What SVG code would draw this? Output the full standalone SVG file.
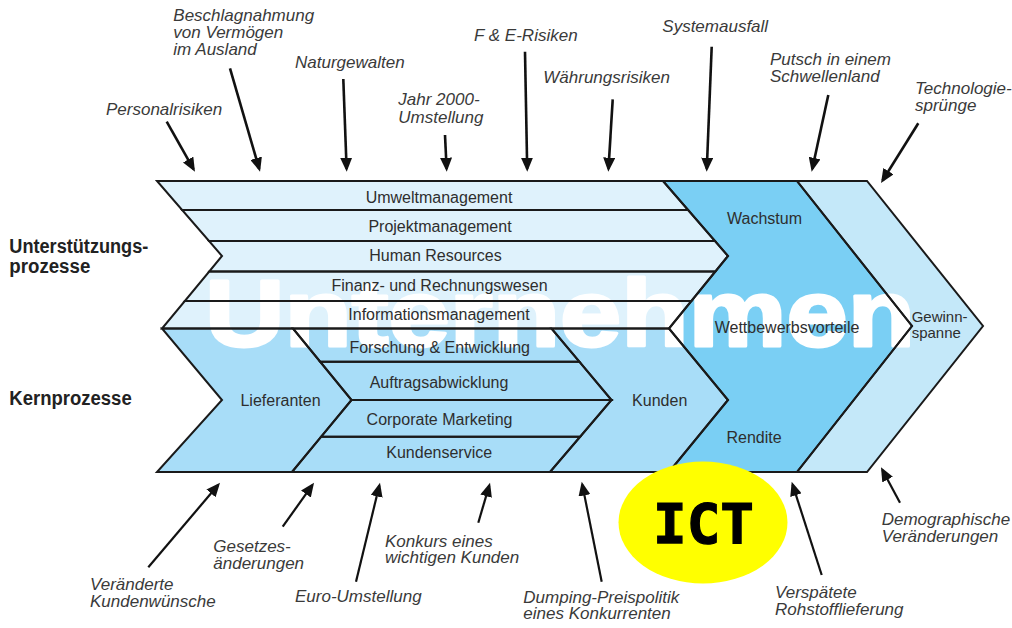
<svg xmlns="http://www.w3.org/2000/svg" xmlns:xlink="http://www.w3.org/1999/xlink" width="1012" height="628" viewBox="0 0 1012 628">
<style>
.top{fill:#DFF2FC}
.kern{fill:#A8DDF8}
.dark{fill:#7ACFF4}
.lite{fill:#C4E8F9}
.ol{fill:none;stroke:#1a1a1a;stroke-width:2;stroke-linejoin:miter}
.lbl{font-family:"Liberation Sans",Arial,sans-serif;font-size:16px;fill:#2e2e2e;text-anchor:middle}
.side{font-family:"Liberation Sans",Arial,sans-serif;font-size:20px;font-weight:bold;fill:#222}
.risk{font-family:"Liberation Sans",Arial,sans-serif;font-size:17px;font-style:italic;fill:#3a3a3a}
.arr{fill:none;stroke:#111;stroke-width:2.6;marker-end:url(#ah)}
.arrb{fill:none;stroke:#111;stroke-width:2.2;marker-end:url(#ah)}
</style>
<defs>
<marker id="ah" markerUnits="userSpaceOnUse" markerWidth="15" markerHeight="12" refX="11" refY="6" orient="auto">
<path d="M0,0 L14,6 L0,12 Z" fill="#111"/>
</marker>
<polygon id="p-umwelt" points="157,181 663,181 688.1,210 182.1,210"/>
<polygon id="p-projekt" points="182.1,210 688.1,210 715,241 209,241"/>
<polygon id="p-human" points="209,241 715,241 728,256 715.4,271.5 209.2,271.5 222,256"/>
<polygon id="p-finanz" points="209.2,271.5 715.4,271.5 691.4,301 184.8,301"/>
<polygon id="p-info" points="184.8,301 691.4,301 669,328.5 162,328.5"/>
<polygon id="p-liefer" points="162,328.5 293,328.5 351.5,400 292,472 157,472 222,400"/>
<polygon id="p-forsch" points="293,328.5 551.5,328.5 579.4,361.7 320.2,361.7"/>
<polygon id="p-auftrag" points="320.2,361.7 579.4,361.7 611.5,400 351.5,400"/>
<polygon id="p-corp" points="351.5,400 611.5,400 580.2,436.7 321.2,436.7"/>
<polygon id="p-kservice" points="321.2,436.7 580.2,436.7 550,472 292,472"/>
<polygon id="p-kunden" points="551.5,328.5 669,328.5 728,400 669,472 550,472 611.5,400"/>
<polygon id="p-ziele" points="663,181 797,181 912,326 797,472 669,472 728,400 669,328.5 728,256"/>
<polygon id="p-gewinn" points="797,181 867,181 983,326 867,472 797,472 912,326"/>
</defs>
<rect width="1012" height="628" fill="#fff"/>

<g id="fills">
<use xlink:href="#p-umwelt" class="top"/>
<use xlink:href="#p-projekt" class="top"/>
<use xlink:href="#p-human" class="top"/>
<use xlink:href="#p-finanz" class="top"/>
<use xlink:href="#p-info" class="top"/>
<use xlink:href="#p-liefer" class="kern"/>
<use xlink:href="#p-forsch" class="kern"/>
<use xlink:href="#p-auftrag" class="kern"/>
<use xlink:href="#p-corp" class="kern"/>
<use xlink:href="#p-kservice" class="kern"/>
<use xlink:href="#p-kunden" class="kern"/>
<use xlink:href="#p-ziele" class="dark"/>
<use xlink:href="#p-gewinn" class="lite"/>
</g>

<text id="watermark" x="205" y="346" font-family="Liberation Sans, Arial, sans-serif" font-size="94" font-weight="bold" fill="#fff" stroke="#fff" stroke-width="3" stroke-linejoin="round" textLength="710" lengthAdjust="spacingAndGlyphs">Unternehmen</text>

<g id="umweltmanagement"><use xlink:href="#p-umwelt" class="ol"/><text class="lbl" x="439" y="203.3">Umweltmanagement</text></g>
<g id="projektmanagement"><use xlink:href="#p-projekt" class="ol"/><text class="lbl" x="440" y="231.7">Projektmanagement</text></g>
<g id="human-resources"><use xlink:href="#p-human" class="ol"/><text class="lbl" x="435.5" y="261">Human Resources</text></g>
<g id="finanzwesen"><use xlink:href="#p-finanz" class="ol"/><text class="lbl" x="439.5" y="291">Finanz- und Rechnungswesen</text></g>
<g id="informationsmanagement"><use xlink:href="#p-info" class="ol"/><text class="lbl" x="439" y="320">Informationsmanagement</text></g>
<g id="lieferanten"><use xlink:href="#p-liefer" class="ol"/><text class="lbl" x="280.5" y="406">Lieferanten</text></g>
<g id="forschung"><use xlink:href="#p-forsch" class="ol"/><text class="lbl" x="439.7" y="352.7">Forschung &amp; Entwicklung</text></g>
<g id="auftragsabwicklung"><use xlink:href="#p-auftrag" class="ol"/><text class="lbl" x="439" y="387.7">Auftragsabwicklung</text></g>
<g id="corporate-marketing"><use xlink:href="#p-corp" class="ol"/><text class="lbl" x="439.5" y="425">Corporate Marketing</text></g>
<g id="kundenservice"><use xlink:href="#p-kservice" class="ol"/><text class="lbl" x="439.2" y="458.3">Kundenservice</text></g>
<g id="kunden"><use xlink:href="#p-kunden" class="ol"/><text class="lbl" x="659.7" y="406">Kunden</text></g>
<g id="ziele"><use xlink:href="#p-ziele" class="ol"/>
<text class="lbl" x="764.5" y="224">Wachstum</text>
<text class="lbl" x="787" y="333.3">Wettbewerbsvorteile</text>
<text class="lbl" x="754" y="442.7">Rendite</text></g>
<g id="gewinnspanne"><use xlink:href="#p-gewinn" class="ol"/>
<text class="lbl" style="font-size:15px;text-anchor:start" x="911.7" y="321.5">Gewinn-</text>
<text class="lbl" style="font-size:15px;text-anchor:start" x="911.7" y="337.5">spanne</text></g>

<g id="side-labels">
<text class="side" x="9.3" y="253.3" textLength="139" lengthAdjust="spacingAndGlyphs">Unterstützungs-</text>
<text class="side" x="9.3" y="273.3" textLength="81" lengthAdjust="spacingAndGlyphs">prozesse</text>
<text class="side" x="9.3" y="405" textLength="122.4" lengthAdjust="spacingAndGlyphs">Kernprozesse</text>
</g>

<g id="ict">
<ellipse cx="703" cy="522.5" rx="84.5" ry="61" fill="#FFFF00"/>
<text x="703.5" y="543" font-family="DejaVu Sans Mono, monospace" font-size="55" font-weight="bold" fill="#000" stroke="#000" stroke-width="1.2" text-anchor="middle" textLength="101" lengthAdjust="spacingAndGlyphs">ICT</text>
</g>

<g id="risk-labels">
<text class="risk" x="106" y="114.5">Personalrisiken</text>
<text class="risk" x="173.3" y="21">Beschlagnahmung</text>
<text class="risk" x="173.3" y="38">von Vermögen</text>
<text class="risk" x="173.3" y="55">im Ausland</text>
<text class="risk" x="295" y="67.5">Naturgewalten</text>
<text class="risk" x="398.3" y="105">Jahr 2000-</text>
<text class="risk" x="398.3" y="123">Umstellung</text>
<text class="risk" x="474" y="41">F &amp; E-Risiken</text>
<text class="risk" x="543.3" y="83">Währungsrisiken</text>
<text class="risk" x="662.3" y="32">Systemausfall</text>
<text class="risk" x="770" y="65">Putsch in einem</text>
<text class="risk" x="770" y="82">Schwellenland</text>
<text class="risk" x="915" y="94">Technologie-</text>
<text class="risk" x="915" y="111">sprünge</text>
<text class="risk" x="90" y="590">Veränderte</text>
<text class="risk" x="90" y="607">Kundenwünsche</text>
<text class="risk" x="213.3" y="552">Gesetzes-</text>
<text class="risk" x="213.3" y="568.5">änderungen</text>
<text class="risk" x="295" y="602">Euro-Umstellung</text>
<text class="risk" x="385" y="547">Konkurs eines</text>
<text class="risk" x="385" y="563">wichtigen Kunden</text>
<text class="risk" x="523.3" y="603">Dumping-Preispolitik</text>
<text class="risk" x="523.3" y="619">eines Konkurrenten</text>
<text class="risk" x="775" y="598">Verspätete</text>
<text class="risk" x="775" y="615">Rohstofflieferung</text>
<text class="risk" x="881.7" y="525">Demographische</text>
<text class="risk" x="881.7" y="542">Veränderungen</text>
</g>

<g id="connectors">
<line class="arr" x1="166.7" y1="121.7" x2="193.5" y2="169.1"/>
<line class="arr" x1="230" y1="68.3" x2="259.2" y2="168.8"/>
<line class="arr" x1="343.3" y1="79" x2="346.6" y2="168.7"/>
<line class="arr" x1="445" y1="135" x2="446.6" y2="168.7"/>
<line class="arr" x1="525" y1="51.7" x2="527.2" y2="168.7"/>
<line class="arr" x1="612.7" y1="99.3" x2="608.5" y2="168.7"/>
<line class="arr" x1="711.7" y1="46.7" x2="706.8" y2="168.7"/>
<line class="arr" x1="828.3" y1="95" x2="812.3" y2="168.8"/>
<line class="arr" x1="918.3" y1="123.3" x2="882.6" y2="180.5"/>
<line class="arrb" x1="148.3" y1="567.3" x2="218.1" y2="485"/>
<line class="arrb" x1="282.7" y1="526.7" x2="312.3" y2="485.1"/>
<line class="arrb" x1="356" y1="581.7" x2="379.3" y2="485.6"/>
<line class="arrb" x1="478.3" y1="522.7" x2="489.2" y2="485.6"/>
<line class="arrb" x1="601.7" y1="581.7" x2="582.3" y2="484.6"/>
<line class="arrb" x1="821.7" y1="575" x2="792.6" y2="484.6"/>
<line class="arrb" x1="900" y1="502.7" x2="882.4" y2="469.9"/>
</g>
</svg>
